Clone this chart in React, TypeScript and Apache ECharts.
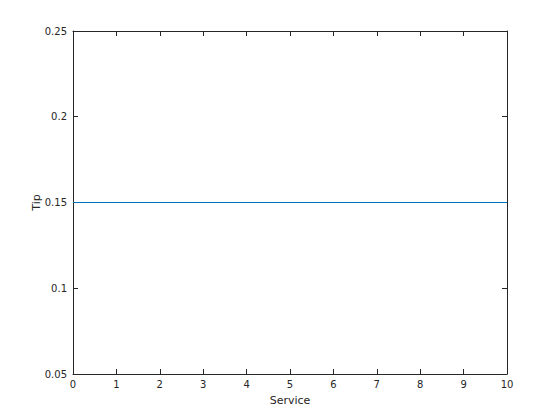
import { useEffect, useRef } from "react";
import * as echarts from "echarts";

const serviceValues = [0, 10];
const tipValues = [0.15, 0.15];

const AXIS_COLOR = "#262626";
const LINE_COLOR = "#0072BD";
const FONT = "DejaVu Sans";

export default function App() {
  const chartRef = useRef<HTMLDivElement>(null);

  useEffect(() => {
    if (!chartRef.current) return;
    const chart = echarts.init(chartRef.current, undefined, { renderer: "svg" });

    const baseAxis = {
      axisLine: { show: true, onZero: false, lineStyle: { color: AXIS_COLOR, width: 1 } },
      axisTick: { show: true, inside: true, length: 5, lineStyle: { color: AXIS_COLOR } },
      splitLine: { show: false },
    };

    chart.setOption({
      animation: false,
      backgroundColor: "#ffffff",
      color: [LINE_COLOR],
      textStyle: { fontFamily: FONT },
      grid: { left: 73, right: 53, top: 31, bottom: 46, containLabel: false },
      xAxis: [
        {
          ...baseAxis,
          type: "value",
          min: 0,
          max: 10,
          interval: 1,
          position: "bottom",
          name: "Service",
          nameLocation: "middle",
          nameGap: 21,
          nameMoveOverlap: false,
          nameTextStyle: { color: AXIS_COLOR, fontSize: 11, fontFamily: FONT },
          axisLabel: { color: AXIS_COLOR, fontSize: 10, margin: 5, fontFamily: FONT },
        },
        {
          ...baseAxis,
          type: "value",
          min: 0,
          max: 10,
          interval: 1,
          position: "top",
          axisLabel: { show: false },
        },
      ],
      yAxis: [
        {
          ...baseAxis,
          type: "value",
          min: 0.05,
          max: 0.25,
          interval: 0.05,
          position: "left",
          name: "Tip",
          nameLocation: "middle",
          nameGap: 31,
          nameMoveOverlap: false,
          nameTextStyle: { color: AXIS_COLOR, fontSize: 11, fontFamily: FONT },
          axisLabel: { color: AXIS_COLOR, fontSize: 10, margin: 6, fontFamily: FONT },
        },
        {
          ...baseAxis,
          type: "value",
          min: 0.05,
          max: 0.25,
          interval: 0.05,
          position: "right",
          axisLabel: { show: false },
        },
      ],
      series: [
        {
          type: "line",
          data: serviceValues.map((x, i) => [x, tipValues[i]]),
          showSymbol: false,
          itemStyle: { color: LINE_COLOR },
          lineStyle: { color: LINE_COLOR, width: 1 },
          xAxisIndex: 0,
          yAxisIndex: 0,
          z: 10,
        },
      ],
    });

    return () => chart.dispose();
  }, []);

  return (
    <div
      ref={chartRef}
      style={{ position: "fixed", left: 0, top: 0, width: 560, height: 420 }}
    />
  );
}
